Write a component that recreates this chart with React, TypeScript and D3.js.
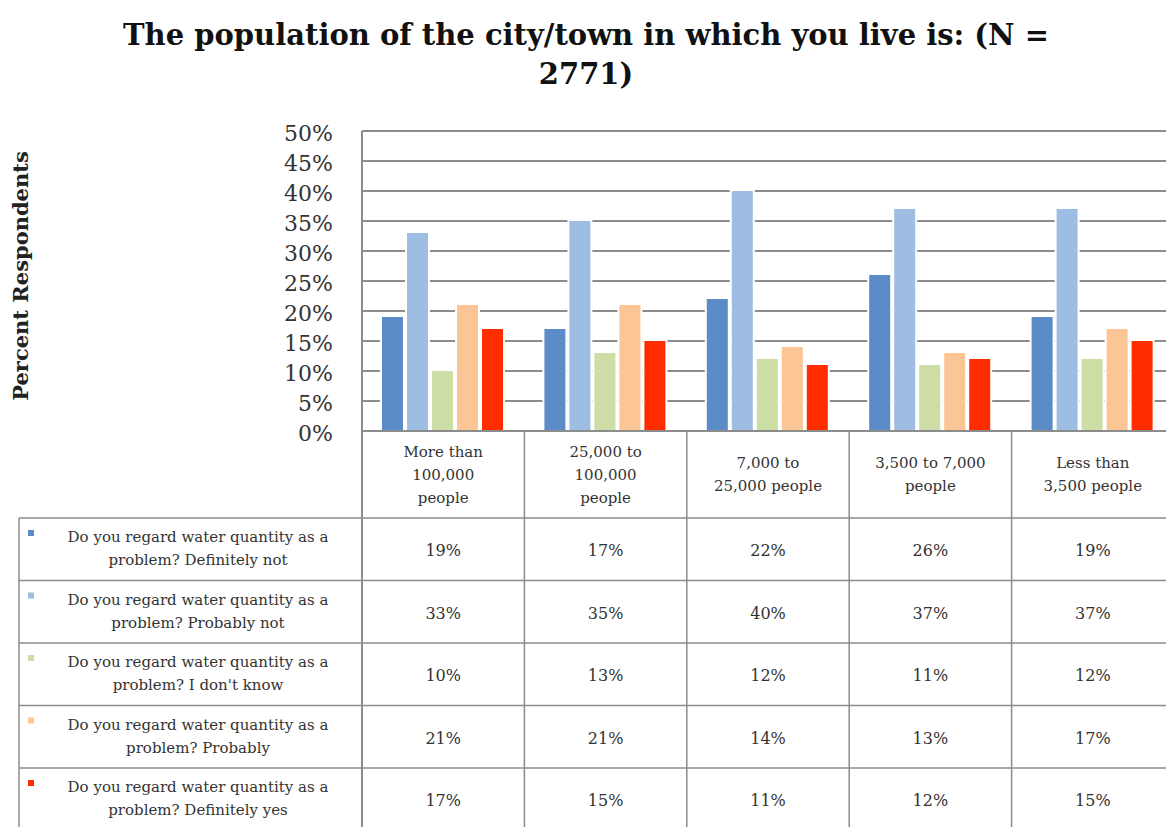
import React from "react";
import * as d3 from "d3";

const titleLines = ["The population of the city/town in which you live is: (N =", "2771)"];
const yAxisTitle = "Percent Respondents";

const categories = [
  "More than 100,000 people",
  "25,000 to 100,000 people",
  "7,000 to 25,000 people",
  "3,500 to 7,000 people",
  "Less than 3,500 people",
];
const categoryLines = [
  ["More than", "100,000", "people"],
  ["25,000 to", "100,000", "people"],
  ["7,000 to", "25,000 people"],
  ["3,500 to 7,000", "people"],
  ["Less than", "3,500 people"],
];

const seriesNames = [
  "Do you regard water quantity as a problem? Definitely not",
  "Do you regard water quantity as a problem? Probably not",
  "Do you regard water quantity as a problem? I don't know",
  "Do you regard water quantity as a problem? Probably",
  "Do you regard water quantity as a problem? Definitely yes",
];
const seriesColors = ["#5b8cc8", "#9dbde2", "#cddda6", "#fbc596", "#ff2c00"];

const definitelyNot = [19, 17, 22, 26, 19];
const probablyNot = [33, 35, 40, 37, 37];
const dontKnow = [10, 13, 12, 11, 12];
const probably = [21, 21, 14, 13, 17];
const definitelyYes = [17, 15, 11, 12, 15];
const seriesValues = [definitelyNot, probablyNot, dontKnow, probably, definitelyYes];

const yTicks = [0, 5, 10, 15, 20, 25, 30, 35, 40, 45, 50];

const W = 1166;
const H = 827;
const plotLeft = 362;
const plotRight = 1174;
const plotTop = 131;
const plotBottom = 431;
const tableTop = 518;
const rowH = 62.5;
const tableLeft = 19;
const gridColor = "#8c8c8c";
const serif = "'DejaVu Serif', serif";

export default function App() {
  const x0 = d3.scaleBand<string>().domain(categories).range([plotLeft, plotRight]);
  const x1 = d3
    .scaleBand<number>()
    .domain(d3.range(seriesNames.length))
    .range([20, 141])
    .paddingInner(0.16);
  const y = d3.scaleLinear().domain([0, 50]).range([plotBottom, plotTop]);
  const fmt = (v: number) => `${v}%`;

  const headerMid = (plotBottom + tableTop) / 2;
  const bandEdges = categories.map((c) => x0(c)!).concat([plotRight]);

  return (
    <svg
      width={W}
      height={H}
      style={{ position: "absolute", left: 0, top: 0, background: "#fff" }}
      fontFamily={serif}
    >
      <rect x={0} y={0} width={W} height={H} fill="#fff" />
      {/* title */}
      {titleLines.map((t, i) => (
        <text
          key={i}
          x={586}
          y={45 + i * 39}
          textAnchor="middle"
          fontSize={29}
          fontWeight="bold"
          fill="#111"
        >
          {t}
        </text>
      ))}

      {/* y axis title */}
      <text
        transform={`translate(28, 276) rotate(-90)`}
        textAnchor="middle"
        fontSize={21}
        fontWeight="bold"
        fill="#222"
      >
        {yAxisTitle}
      </text>

      {/* gridlines */}
      {yTicks.map((t) => (
        <line
          key={t}
          x1={plotLeft}
          x2={plotRight}
          y1={y(t)}
          y2={y(t)}
          stroke={gridColor}
          strokeWidth={2}
        />
      ))}
      <line x1={plotLeft} x2={plotLeft} y1={plotTop} y2={H} stroke={gridColor} strokeWidth={2} />

      {/* y tick labels */}
      {yTicks.map((t) => (
        <text key={t} x={333} y={y(t) + 10} textAnchor="end" fontSize={22} fill="#333">
          {fmt(t)}
        </text>
      ))}

      {/* bars */}
      {categories.map((c, ci) => (
        <g key={c} transform={`translate(${x0(c)},0)`}>
          {seriesValues.map((vals, si) => (
            <rect
              key={`h${si}`}
              x={x1(si)! - 2}
              y={y(vals[ci]) - 1}
              width={x1.bandwidth() + 4}
              height={plotBottom - y(vals[ci])}
              fill="#fff"
            />
          ))}
          {seriesValues.map((vals, si) => (
            <rect
              key={si}
              x={x1(si)}
              y={y(vals[ci])}
              width={x1.bandwidth()}
              height={plotBottom - y(vals[ci])}
              fill={seriesColors[si]}
            />
          ))}
        </g>
      ))}
      <line x1={plotLeft} x2={plotRight} y1={plotBottom} y2={plotBottom} stroke={gridColor} strokeWidth={2} />

      {/* table vertical lines */}
      {bandEdges.map((xe, i) => (
        <line key={i} x1={xe} x2={xe} y1={plotBottom} y2={H} stroke={gridColor} strokeWidth={1.5} />
      ))}
      <line x1={tableLeft} x2={tableLeft} y1={tableTop} y2={H} stroke={gridColor} strokeWidth={1.5} />
      {/* table horizontal lines */}
      {d3.range(seriesNames.length + 1).map((i) => (
        <line
          key={i}
          x1={tableLeft}
          x2={plotRight}
          y1={tableTop + i * rowH}
          y2={tableTop + i * rowH}
          stroke={gridColor}
          strokeWidth={1.5}
        />
      ))}

      {/* header labels */}
      {categories.map((c, ci) => {
        const lines = categoryLines[ci];
        const cx = x0(c)! + x0.bandwidth() / 2;
        return (
          <text key={c} textAnchor="middle" fontSize={15} fill="#333">
            {lines.map((l, li) => (
              <tspan key={li} x={cx} y={headerMid + (li - (lines.length - 1) / 2) * 23 + 5}>
                {l}
              </tspan>
            ))}
          </text>
        );
      })}

      {/* series rows */}
      {seriesNames.map((name, si) => {
        const top = tableTop + si * rowH;
        const idx = name.indexOf("problem?");
        const l1 = name.slice(0, idx).trim();
        const l2 = name.slice(idx);
        return (
          <g key={name}>
            <rect x={28} y={top + 12} width={6} height={6} fill={seriesColors[si]} />
            <text textAnchor="middle" fontSize={15} fill="#333">
              <tspan x={198} y={top + 24}>
                {l1}
              </tspan>
              <tspan x={198} y={top + 47}>
                {l2}
              </tspan>
            </text>
            {categories.map((c, ci) => (
              <text
                key={c}
                x={x0(c)! + x0.bandwidth() / 2}
                y={top + rowH / 2 + 7}
                textAnchor="middle"
                fontSize={16}
                fill="#333"
              >
                {fmt(seriesValues[si][ci])}
              </text>
            ))}
          </g>
        );
      })}
    </svg>
  );
}
